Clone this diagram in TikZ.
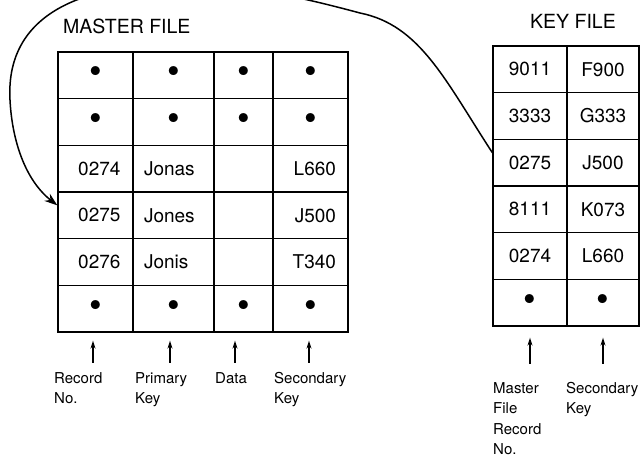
\documentclass[tikz,border=0pt]{standalone}
\usepackage{fontspec}
\setmainfont{TeX Gyre Heros}
\usetikzlibrary{arrows.meta,positioning}
\newcommand{\celldot}{\scalebox{1.9}{\textbullet}}

\begin{document}
\begin{tikzpicture}[
    x=1pt, y=-1pt,
    cell/.style={draw, line width=1.3pt, minimum height=46.67pt, inner sep=0pt, font=\fontsize{19}{22}\selectfont},
    title/.style={inner sep=0pt, font=\fontsize{19.5}{23}\selectfont},
    fieldname/.style={inner sep=0pt, align=left, font=\fontsize{15}{20.5}\selectfont},
    pointer/.style={-{Stealth[length=8pt,width=5pt]}, line width=1.2pt},
    link/.style={-{Stealth[length=13pt,width=9pt]}, line width=1.5pt}
]
\clip (0,0) rectangle (641,458);

% master file
\node[title, anchor=base west] (mtitle) at (63,33) {MASTER FILE};
\foreach \r in {1,2,6}{
  \node[cell, minimum width=75pt] (m\r1) at (95.5, 28.67+46.67*\r) {\celldot};
  \node[cell, minimum width=81pt] (m\r2) at (173.5, 28.67+46.67*\r) {\celldot};
  \node[cell, minimum width=59pt] (m\r3) at (243.5, 28.67+46.67*\r) {\celldot};
  \node[cell, minimum width=75pt] (m\r4) at (310.5, 28.67+46.67*\r) {\celldot};
}
\foreach \r/\rec/\name/\sec in {3/0274/Jonas/L660, 4/0275/Jones/J500, 5/0276/Jonis/T340}{
  \node[cell, minimum width=75pt, text width=50pt, align=right] (m\r1) at (95.5, 28.67+46.67*\r) {\rec};
  \node[cell, minimum width=81pt, text width=59pt, align=left] (m\r2) at (173.5, 28.67+46.67*\r) {\name};
  \node[cell, minimum width=59pt] (m\r3) at (243.5, 28.67+46.67*\r) {};
  \node[cell, minimum width=75pt, text width=51pt, align=right] (m\r4) at (310.5, 28.67+46.67*\r) {\sec};
}
\node[fieldname, anchor=north west] (recno) at (54,372) {Record\\No.};
\node[fieldname, anchor=north west] (pkey) at (135,372) {Primary\\Key};
\node[fieldname, anchor=north west] (data) at (215,372) {Data};
\node[fieldname, anchor=north west] (skey) at (274,372) {Secondary\\Key};
\foreach \c/\dx in {1/-2.5, 2/-3.5, 3/-8.5, 4/-1.5}
  \draw[pointer] ([xshift=\dx pt, yshift=-30pt]m6\c.south) -- ([xshift=\dx pt, yshift=-8pt]m6\c.south);

% key file
\node[title, anchor=base] (ktitle) at (573,28) {KEY FILE};
\foreach \r/\rec/\sec in {1/9011/F900, 2/3333/G333, 3/0275/J500, 4/8111/K073, 5/0274/L660, 6/\celldot/\celldot}{
  \node[cell, minimum width=74pt] (k\r1) at (530, 22.67+46.67*\r) {\rec};
  \node[cell, minimum width=72pt] (k\r2) at (603, 22.67+46.67*\r) {\sec};
}
\node[fieldname, anchor=north west] (mfrec) at (493,382) {Master\\File\\Record\\No.};
\node[fieldname, anchor=north west] (kskey) at (566,382) {Secondary\\Key};
\foreach \c in {1,2}
  \draw[pointer] ([yshift=-37pt]k6\c.south) -- ([yshift=-11pt]k6\c.south);

% key points back to master record
\draw[link] ([yshift=10pt]k31.west) .. controls (445,80) and (420,25) .. (360,13)
  .. controls (300,-3) and (250,-15) .. (170,-15)
  .. controls (90,-15) and (5,10) .. (10,100)
  .. controls (12,140) and (25,180) .. ([yshift=10pt]m41.west);
\end{tikzpicture}
\end{document}
